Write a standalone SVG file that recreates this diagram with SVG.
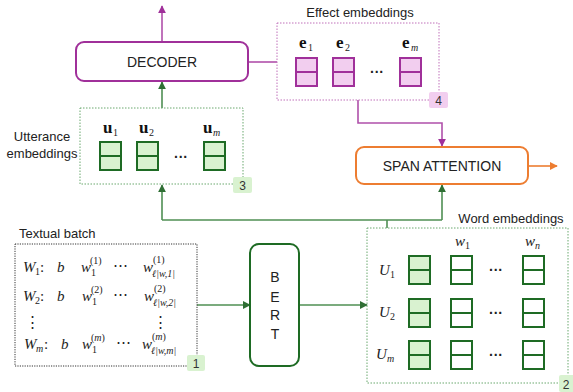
<svg xmlns="http://www.w3.org/2000/svg" width="573" height="392" viewBox="0 0 573 392">
<style>
.lbl{font-family:"Liberation Sans",Arial,sans-serif;font-size:13px;fill:#222}
.big{font-family:"Liberation Sans",Arial,sans-serif;font-size:14px;fill:#222;text-anchor:middle}
.m{font-family:"Liberation Serif","Times New Roman",serif;font-style:italic;font-size:15px;fill:#222}
.n{font-family:"Liberation Serif","Times New Roman",serif;font-style:normal;font-size:15px;fill:#222}
.mb{font-family:"Liberation Serif","Times New Roman",serif;font-weight:bold;font-size:17px;fill:#111}
.sub{font-family:"Liberation Serif","Times New Roman",serif;font-style:normal;font-weight:normal;font-size:10px;fill:#222}
.si{font-family:"Liberation Serif","Times New Roman",serif;font-style:italic;font-weight:normal;font-size:10px;fill:#222}
.gcell{fill:#d9f2d0;stroke:#1e6b24;stroke-width:2}
.wcell{fill:#fff;stroke:#1e6b24;stroke-width:2}
.pcell{fill:#f2ceef;stroke:#a0309a;stroke-width:2}
.gline{stroke:#1e6b24;stroke-width:2}
.pline{stroke:#a0309a;stroke-width:2}
.gc{fill:none;stroke:#4f8f53;stroke-width:1.6}
.pc{fill:none;stroke:#b050aa;stroke-width:1.6}
.dots{font-family:"Liberation Sans",Arial,sans-serif;font-size:14px;font-weight:bold;fill:#222;text-anchor:middle}
.badge{font-family:"Liberation Sans",Arial,sans-serif;font-size:12px;fill:#333;text-anchor:middle}
</style>
<defs>
<marker id="ag" viewBox="0 0 10 10" refX="9" refY="5" markerWidth="5" markerHeight="5" orient="auto"><path d="M0,0 L10,5 L0,10 z" fill="#2f6f34"/></marker>
<marker id="ap" viewBox="0 0 10 10" refX="9" refY="5" markerWidth="5" markerHeight="5" orient="auto"><path d="M0,0 L10,5 L0,10 z" fill="#a0309a"/></marker>
<marker id="ao" viewBox="0 0 10 10" refX="9" refY="5" markerWidth="5" markerHeight="5" orient="auto"><path d="M0,0 L10,5 L0,10 z" fill="#ed7d31"/></marker>
<g id="gc"><rect width="21" height="28" class="gcell"/><line x1="0" y1="14" x2="21" y2="14" class="gline"/></g>
<g id="wc"><rect width="21" height="28" class="wcell"/><line x1="0" y1="14" x2="21" y2="14" class="gline"/></g>
<g id="pcell"><rect width="21" height="28" class="pcell"/><line x1="0" y1="14" x2="21" y2="14" class="pline"/></g>
</defs>
<rect width="573" height="392" fill="#fff"/>

<g id="connectors">
<line x1="162" y1="42" x2="162" y2="6" class="pc" marker-end="url(#ap)"/>
<line x1="162" y1="108" x2="162" y2="82" class="gc" marker-end="url(#ag)"/>
<line x1="248" y1="62" x2="277" y2="62" class="pc"/>
<polyline points="358,100 358,123 442,123 442,146" class="pc" marker-end="url(#ap)"/>
<line x1="528" y1="166" x2="557" y2="166" stroke="#ed7d31" stroke-width="1.6" marker-end="url(#ao)"/>
<polyline points="162,220 442,220" class="gc"/>
<line x1="162" y1="220" x2="162" y2="185" class="gc" marker-end="url(#ag)"/>
<line x1="442" y1="220" x2="442" y2="185" class="gc" marker-end="url(#ag)"/>
<line x1="387" y1="220" x2="387" y2="228" class="gc"/>
<line x1="197" y1="305" x2="250" y2="305" class="gc" marker-end="url(#ag)"/>
<line x1="299" y1="305" x2="367" y2="305" class="gc" marker-end="url(#ag)"/>
</g>

<g id="decoder">
<rect x="76" y="42" width="172" height="39" rx="8" fill="#fff" stroke="#a0309a" stroke-width="2"/>
<text x="162" y="67" class="big">DECODER</text>
</g>

<g id="utterance">
<rect x="80" y="108" width="163" height="76" fill="none" stroke="#6aa86e" stroke-width="1" stroke-dasharray="1.5,1.5"/>
<text x="42" y="141" class="lbl" text-anchor="middle">Utterance</text>
<text x="42" y="158" class="lbl" text-anchor="middle">embeddings</text>
<text x="103" y="133" class="mb">u</text><text x="113" y="136" class="sub">1</text>
<text x="139" y="133" class="mb">u</text><text x="149" y="136" class="sub">2</text>
<text x="203" y="133" class="mb">u</text><text x="213" y="136" class="si">m</text>
<use href="#gc" x="100" y="142"/>
<use href="#gc" x="137" y="142"/>
<use href="#gc" x="204" y="142"/>
<text x="181" y="162" class="dots">···</text>
<rect x="233" y="177" width="19" height="16" rx="2" fill="#d9f2d0"/>
<text x="242.5" y="190" class="badge">3</text>
</g>

<g id="effect">
<text x="360" y="17" class="lbl" text-anchor="middle">Effect embeddings</text>
<rect x="277" y="23" width="162" height="77" fill="none" stroke="#c070ba" stroke-width="1" stroke-dasharray="1.5,1.5"/>
<text x="299" y="48" class="mb">e</text><text x="308" y="51" class="sub">1</text>
<text x="336" y="48" class="mb">e</text><text x="345" y="51" class="sub">2</text>
<text x="402" y="48" class="mb">e</text><text x="411" y="51" class="si">m</text>
<use href="#pcell" x="296" y="58"/>
<use href="#pcell" x="333" y="58"/>
<use href="#pcell" x="400" y="58"/>
<text x="377" y="77" class="dots">···</text>
<rect x="429" y="92" width="19" height="16" rx="2" fill="#f2ceef"/>
<text x="438.5" y="105" class="badge">4</text>
</g>

<g id="span">
<rect x="356" y="147" width="172" height="37" rx="8" fill="#fff" stroke="#ed7d31" stroke-width="2"/>
<text x="442" y="171" class="big">SPAN ATTENTION</text>
</g>

<g id="textual">
<text x="19" y="238" class="lbl">Textual batch</text>
<rect x="15" y="244" width="182" height="122" fill="none" stroke="#333" stroke-width="1" stroke-dasharray="1.2,1.2"/>

<text x="23" y="272" class="m">W</text><text x="35" y="275" class="sub">1</text><text x="40" y="272" class="n">:</text>
<text x="57" y="272" class="m">b</text>
<text x="81" y="272" class="m">w</text><text x="91" y="276" class="sub">1</text><text x="90" y="264" class="sub">(1)</text>
<text x="120" y="270" class="n" text-anchor="middle">⋯</text>
<text x="143" y="272" class="m">w</text><text x="153" y="263" class="sub" font-size="9">(1)</text><text x="152" y="277" class="si" font-size="8.5">ℓ|w,1|</text>

<text x="23" y="301" class="m">W</text><text x="35" y="304" class="sub">2</text><text x="40" y="301" class="n">:</text>
<text x="57" y="301" class="m">b</text>
<text x="82" y="301" class="m">w</text><text x="92" y="305" class="sub">1</text><text x="91" y="293" class="sub">(2)</text>
<text x="120" y="299" class="n" text-anchor="middle">⋯</text>
<text x="144" y="301" class="m">w</text><text x="154" y="292" class="sub" font-size="9">(2)</text><text x="153" y="306" class="si" font-size="8.5">ℓ|w,2|</text>

<text x="32" y="327" class="n" text-anchor="middle">⋮</text>
<text x="160" y="327" class="n" text-anchor="middle">⋮</text>

<text x="24" y="349" class="m">W</text><text x="36" y="352" class="si">m</text><text x="44" y="349" class="n">:</text>
<text x="61" y="349" class="m">b</text>
<text x="82" y="349" class="m">w</text><text x="92" y="353" class="sub">1</text><text x="91" y="341" class="sub">(<tspan font-style="italic">m</tspan>)</text>
<text x="123" y="347" class="n" text-anchor="middle">⋯</text>
<text x="142" y="349" class="m">w</text><text x="152" y="340" class="sub" font-size="9">(<tspan font-style="italic">m</tspan>)</text><text x="151" y="354" class="si" font-size="8.5">ℓ|w,m|</text>
<rect x="187" y="355" width="18" height="16" rx="2" fill="#d9f2d0"/>
<text x="196" y="368" class="badge">1</text>
</g>

<g id="bert">
<rect x="250" y="244" width="49" height="122" rx="9" fill="#fff" stroke="#1e6b24" stroke-width="2"/>
<text x="275" y="282" class="big">B</text>
<text x="275" y="302" class="big">E</text>
<text x="275" y="320" class="big">R</text>
<text x="275" y="339" class="big">T</text>
</g>

<g id="word">
<text x="511" y="223" class="lbl" text-anchor="middle">Word embeddings</text>
<rect x="367" y="228" width="201" height="155" fill="none" stroke="#6aa86e" stroke-width="1" stroke-dasharray="1.5,1.5"/>
<text x="455" y="246" class="m">w</text><text x="465" y="249" class="sub">1</text>
<text x="525" y="246" class="m">w</text><text x="535" y="249" class="si">n</text>
<text x="379" y="275" class="m">U</text><text x="390" y="278" class="sub">1</text>
<text x="379" y="317" class="m">U</text><text x="390" y="320" class="sub">2</text>
<text x="376" y="359" class="m">U</text><text x="387" y="362" class="si">m</text>
<use href="#gc" x="409" y="256"/><use href="#wc" x="451" y="256"/><use href="#wc" x="523" y="256"/>
<use href="#gc" x="409" y="299"/><use href="#wc" x="451" y="299"/><use href="#wc" x="523" y="299"/>
<use href="#gc" x="409" y="341"/><use href="#wc" x="451" y="341"/><use href="#wc" x="523" y="341"/>
<text x="496" y="275" class="dots">···</text>
<text x="496" y="318" class="dots">···</text>
<text x="496" y="360" class="dots">···</text>
<rect x="559" y="375" width="16" height="17" rx="2" fill="#d9f2d0"/>
<text x="566" y="389" class="badge">2</text>
</g>
</svg>
